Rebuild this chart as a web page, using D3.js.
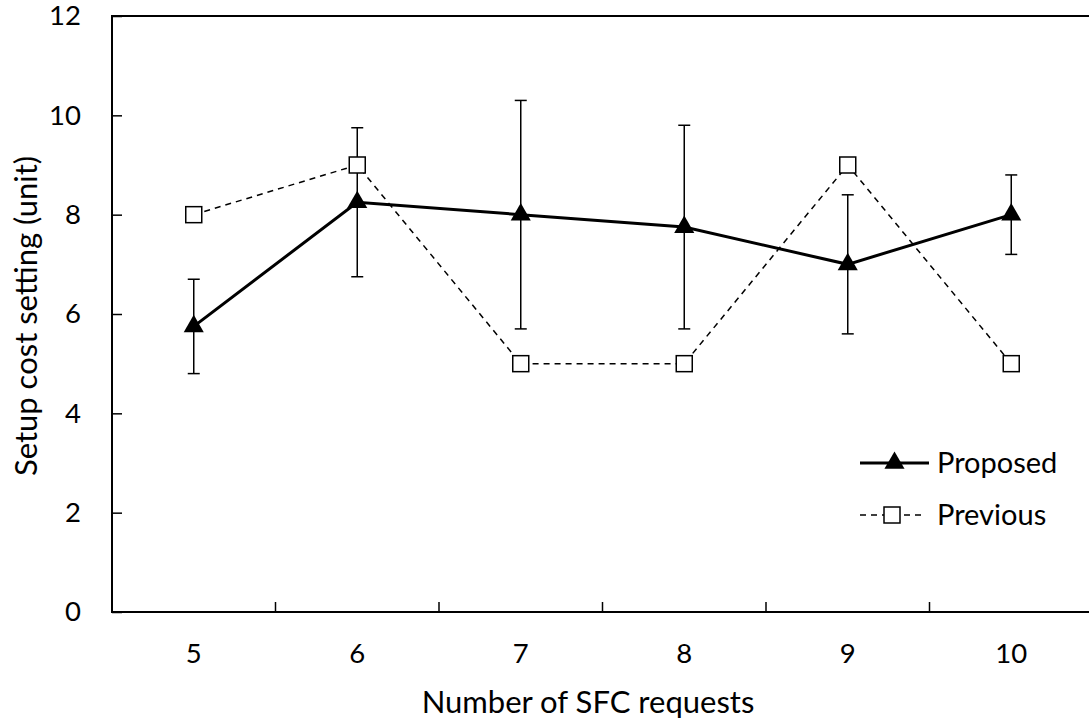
<!DOCTYPE html>
<html>
<head>
<meta charset="utf-8">
<script src="https://cdn.jsdelivr.net/npm/d3@7"></script>
<style>
  html, body { margin: 0; padding: 0; background: #fff; }
  svg { display: block; font-family: Lato, "Open Sans", sans-serif; }
</style>
</head>
<body>
<svg id="chart" width="1089" height="722"></svg>
<script>
// Setup cost per number of SFC requests
const categories = ["5", "6", "7", "8", "9", "10"];
const proposed = [5.75, 8.25, 8.0, 7.75, 7.0, 8.0];
const proposedLow = [4.8, 6.75, 5.7, 5.7, 5.6, 7.2];
const proposedHigh = [6.7, 9.75, 10.3, 9.8, 8.4, 8.8];
const previous = [8, 9, 5, 5, 9, 5];
const yTicks = [0, 2, 4, 6, 8, 10, 12];
const seriesNames = ["Proposed", "Previous"];
const xTitle = "Number of SFC requests";
const yTitle = "Setup cost setting (unit)";

const svg = d3.select("#chart");
const plot = { left: 112, top: 16, right: 1093, bottom: 612 };

const x = d3.scaleBand().domain(categories).range([plot.left, plot.right]).padding(0);
const y = d3.scaleLinear().domain([0, 12]).range([plot.bottom, plot.top]);
const cx = c => x(c) + x.bandwidth() / 2;

// Plot frame
svg.append("rect")
  .attr("x", plot.left).attr("y", plot.top)
  .attr("width", plot.right - plot.left).attr("height", plot.bottom - plot.top)
  .attr("fill", "none").attr("stroke", "#000").attr("stroke-width", 2);

// Y axis: ticks pointing into the plot
const yAxis = d3.axisLeft(y).tickValues(yTicks).tickFormat(d3.format("d"))
  .tickSizeInner(-10).tickSizeOuter(0).tickPadding(31);
const gy = svg.append("g").attr("transform", `translate(${plot.left},0)`).call(yAxis);
gy.select(".domain").remove();
gy.selectAll(".tick line").attr("stroke", "#000").attr("stroke-width", 1.5);
gy.selectAll(".tick text").attr("font-size", 27.5).attr("fill", "#000").attr("font-family", "Lato, sans-serif");

// X axis: labels centred in each category, ticks on category boundaries
const xAxis = d3.axisBottom(x).tickSize(0).tickPadding(31);
const gx = svg.append("g").attr("transform", `translate(0,${plot.bottom})`).call(xAxis);
gx.select(".domain").remove();
gx.selectAll(".tick text").attr("font-size", 27.5).attr("fill", "#000").attr("font-family", "Lato, sans-serif");

svg.append("g").selectAll("line")
  .data(categories.slice(1))
  .join("line")
  .attr("x1", d => x(d)).attr("x2", d => x(d))
  .attr("y1", plot.bottom).attr("y2", plot.bottom - 10)
  .attr("stroke", "#000").attr("stroke-width", 1.5);

// Axis titles
svg.append("text")
  .attr("x", 588).attr("y", 713)
  .attr("text-anchor", "middle").attr("font-size", 31).attr("fill", "#000")
  .text(xTitle);
svg.append("text")
  .attr("transform", "translate(37,316) rotate(-90)")
  .attr("text-anchor", "middle").attr("font-size", 31).attr("fill", "#000")
  .text(yTitle);

// Error bars for the proposed method
const capHalf = 6;
const eb = svg.append("g").attr("stroke", "#000").attr("stroke-width", 1.5);
categories.forEach((c, i) => {
  eb.append("line").attr("x1", cx(c)).attr("x2", cx(c))
    .attr("y1", y(proposedLow[i])).attr("y2", y(proposedHigh[i]));
  eb.append("line").attr("x1", cx(c) - capHalf).attr("x2", cx(c) + capHalf)
    .attr("y1", y(proposedLow[i])).attr("y2", y(proposedLow[i]));
  eb.append("line").attr("x1", cx(c) - capHalf).attr("x2", cx(c) + capHalf)
    .attr("y1", y(proposedHigh[i])).attr("y2", y(proposedHigh[i]));
});

// Proposed series: solid line with filled triangles
const line = d3.line().x((d, i) => cx(categories[i])).y(d => y(d));
svg.append("path").datum(proposed)
  .attr("d", line).attr("fill", "none").attr("stroke", "#000").attr("stroke-width", 3);
const tri = d3.symbol().type(d3.symbolTriangle).size(175);
svg.append("g").selectAll("path")
  .data(proposed).join("path")
  .attr("d", tri)
  .attr("transform", (d, i) => `translate(${cx(categories[i])},${y(d)})`)
  .attr("fill", "#000");

// Previous series: dashed line with hollow squares
svg.append("path").datum(previous)
  .attr("d", line).attr("fill", "none").attr("stroke", "#000")
  .attr("stroke-width", 1.5).attr("stroke-dasharray", "6,5");
const sq = 16;
svg.append("g").selectAll("rect")
  .data(previous).join("rect")
  .attr("x", (d, i) => cx(categories[i]) - sq / 2)
  .attr("y", d => y(d) - sq / 2)
  .attr("width", sq).attr("height", sq)
  .attr("fill", "#fff").attr("stroke", "#000").attr("stroke-width", 1.5);

// Legend
const legend = svg.append("g");
const lx0 = 860, lx1 = 929, ly = [463, 515];
legend.append("line").attr("x1", lx0).attr("x2", lx1).attr("y1", ly[0]).attr("y2", ly[0])
  .attr("stroke", "#000").attr("stroke-width", 3);
legend.append("path").attr("d", tri).attr("transform", `translate(${(lx0 + lx1) / 2},${ly[0]})`).attr("fill", "#000");
legend.append("line").attr("x1", lx0).attr("x2", 923).attr("y1", ly[1]).attr("y2", ly[1])
  .attr("stroke", "#000").attr("stroke-width", 1.5).attr("stroke-dasharray", "6,5");
legend.append("rect").attr("x", 892 - sq / 2).attr("y", ly[1] - sq / 2).attr("width", sq).attr("height", sq)
  .attr("fill", "#fff").attr("stroke", "#000").attr("stroke-width", 1.5);
seriesNames.forEach((name, i) => {
  legend.append("text").attr("x", 937).attr("y", ly[i]).attr("dy", "0.35em")
    .attr("font-size", 29).attr("fill", "#000").text(name);
});
</script>
</body>
</html>
